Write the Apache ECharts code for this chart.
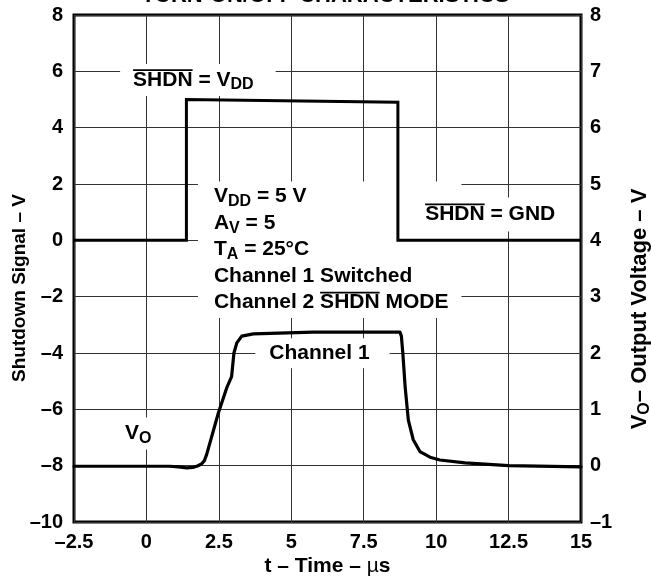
<!DOCTYPE html>
<html><head><meta charset="utf-8">
<script src="https://cdn.jsdelivr.net/npm/echarts@6/dist/echarts.min.js"></script>
<style>html,body{margin:0;padding:0;background:#fff}#c{width:651px;height:584px}</style>
</head><body><div id="c"></div>
<script>
const FONT = '"Liberation Sans", Arial, Helvetica, sans-serif';

// ---- data ----
const titleText = 'TURN-ON/OFF CHARACTERISTICS';
const xMin = -2.5, xMax = 15, xStep = 2.5;
const leftMin = -10, leftMax = 8, leftStep = 2;
const rightMin = -1, rightMax = 8, rightStep = 1;

// Shutdown signal (left axis, V)
const shdnT = [-2.5, 1.38, 1.38, 8.68, 8.68, 15];
const shdnV = [0, 0, 5.0, 4.9, 0, 0];

// VO output voltage (right axis, V)
const voT = [-2.5, 0, 0.8, 1.1, 1.39, 1.6, 1.74, 1.9, 2.0, 2.08, 2.48, 2.77, 2.94, 3.02, 3.12, 3.29, 3.69, 5.75, 8.75, 8.8, 8.85, 8.93, 9.04, 9.21, 9.44, 9.79, 10.13, 11, 12.5, 15];
const voV = [-0.01, -0.01, -0.01, -0.02, -0.04, -0.03, -0.01, 0.03, 0.09, 0.2, 0.93, 1.38, 1.58, 2.0, 2.18, 2.30, 2.34, 2.37, 2.37, 2.3, 2.0, 1.40, 0.81, 0.46, 0.25, 0.15, 0.10, 0.05, 0.0, -0.02];

// ---- annotations (text, anchored in data coords of left axis) ----
const notes = [
  {t: -0.46, v: 5.69, lh: 26, pad: [3, 22, 3, 13], lines: [[['b', 'SHDN', 1], ['b', ' = V'], ['s', 'DD']]]},
  {t: 2.33, v: -0.33, lh: 26.5, pad: [2, 13, 2, 16], lines: [
    [['b', 'V'], ['s', 'DD'], ['b', ' = 5 V']],
    [['b', 'A'], ['s', 'V'], ['b', ' = 5']],
    [['b', 'T'], ['s', 'A'], ['b', ' = 25°C']],
    [['b', 'Channel 1 Switched']],
    [['b', 'Channel 2 '], ['b', 'SHDN', 1], ['b', ' MODE']]]},
  {t: 9.62, v: 0.92, lh: 26, pad: [4, 7, 4, 7], lines: [[['b', 'SHDN', 1], ['b', ' = GND']]]},
  {t: 4.24, v: -4.01, lh: 26, pad: [2, 20, 2, 14], lines: [[['b', 'Channel 1']]]},
  {t: -0.74, v: -6.86, lh: 26, pad: [3, 6, 3, 5], lines: [[['b', 'V'], ['s', 'O']]]}
];

const fmt = v => (v < 0 ? '\u2013' + String(-v) : String(v));
const tickFont = {fontFamily: FONT, fontWeight: 'bold', fontSize: 20, color: '#000'};
const gridLine = {show: true, lineStyle: {color: '#333', width: 1}};

const option = {
  animation: false,
  backgroundColor: '#fff',
  title: {text: titleText, left: 'center', top: -15, padding: 0,
    textStyle: {fontFamily: FONT, fontWeight: 'bold', fontSize: 22, color: '#000'}},
  grid: {left: 74, right: 70, top: 15, bottom: 62, show: true, borderColor: '#000', borderWidth: 3,
    backgroundColor: 'transparent', containLabel: false, outerBoundsMode: 'none'},
  xAxis: {
    type: 'value', min: xMin, max: xMax, interval: xStep,
    axisLine: {show: false}, axisTick: {show: false}, splitLine: gridLine,
    axisLabel: Object.assign({margin: 10, formatter: fmt}, tickFont),
    name: '{b|t \u2013 Time \u2013 }{m|\u00b5}{b|s}', nameLocation: 'middle', nameGap: 34, nameMoveOverlap: false,
    nameTextStyle: {rich: {
      b: {fontFamily: FONT, fontWeight: 'bold', fontSize: 21, color: '#000'},
      m: {fontFamily: FONT, fontWeight: 'normal', fontSize: 21, color: '#000'}}}
  },
  yAxis: [{
    type: 'value', position: 'left', min: leftMin, max: leftMax, interval: leftStep,
    axisLine: {show: false}, axisTick: {show: false}, splitLine: gridLine,
    axisLabel: Object.assign({margin: 11, formatter: fmt}, tickFont),
    name: 'Shutdown Signal \u2013 V', nameLocation: 'middle', nameGap: 45, nameMoveOverlap: false,
    nameTextStyle: {fontFamily: FONT, fontWeight: 'bold', fontSize: 19, color: '#000', padding: [0, 39, 0, 0]}
  }, {
    type: 'value', position: 'right', min: rightMin, max: rightMax, interval: rightStep,
    axisLine: {show: false}, axisTick: {show: false}, splitLine: {show: false},
    axisLabel: Object.assign({margin: 9, formatter: fmt}, tickFont),
    name: '{b|V}{s|O}{b|\u2013 Output Voltage \u2013 V}', nameLocation: 'middle', nameGap: 46, nameMoveOverlap: false,
    nameTextStyle: {padding: [0, 81, 0, 0], rich: {
      b: {fontFamily: FONT, fontWeight: 'bold', fontSize: 22, color: '#000', lineHeight: 26},
      s: {fontFamily: FONT, fontWeight: 'bold', fontSize: 16, color: '#000', lineHeight: 14, verticalAlign: 'bottom'}}}
  }],
  series: [{
    name: 'Shutdown', type: 'line', yAxisIndex: 0, showSymbol: false, symbol: 'none',
    lineStyle: {color: '#000', width: 3, join: 'miter'},
    data: shdnT.map((t, i) => [t, shdnV[i]]), z: 3
  }, {
    name: 'VO', type: 'line', yAxisIndex: 1, showSymbol: false, symbol: 'none',
    smooth: false,
    lineStyle: {color: '#000', width: 3.2, join: 'round', cap: 'round'},
    data: voT.map((t, i) => [t, voV[i]]), z: 3
  }]
};

const chart = echarts.init(document.getElementById('c'), null, {renderer: 'canvas'});
chart.setOption(option);

const ctx = document.createElement('canvas').getContext('2d');
const styles = {b: {fs: 21}, s: {fs: 16}};
function tw(txt, st) { ctx.font = 'bold ' + styles[st].fs + 'px ' + FONT; return ctx.measureText(txt).width; }

const elements = [];
notes.forEach(n => {
  const p = chart.convertToPixel({xAxisIndex: 0, yAxisIndex: 0}, [n.t, n.v]);
  const rich = {
    b: {fontFamily: FONT, fontWeight: 'bold', fontSize: 21, fill: '#000', lineHeight: n.lh},
    s: {fontFamily: FONT, fontWeight: 'bold', fontSize: 16, fill: '#000', lineHeight: 14, verticalAlign: 'bottom'}
  };
  const text = n.lines.map(line => line.map(tk => '{' + tk[0] + '|' + tk[1] + '}').join('')).join('\n');
  elements.push({type: 'text', z: 1, x: p[0] - n.pad[3], y: p[1],
    style: {text: text, rich: rich, align: 'left', verticalAlign: 'middle', backgroundColor: '#fff', padding: n.pad,
      fontFamily: FONT, fontWeight: 'bold', fontSize: 21, fill: '#000', lineHeight: n.lh}});
  const totalH = n.lines.length * n.lh;
  n.lines.forEach((line, i) => {
    const cy = p[1] - totalH / 2 + n.lh * (i + 0.5);
    let x = p[0];
    line.forEach(tk => {
      const w = tw(tk[1], tk[0]);
      if (tk[2]) {
        const y = cy - 0.716 * 21 / 2 - 2.5;
        elements.push({type: 'line', z: 4, shape: {x1: x, y1: y, x2: x + w, y2: y}, style: {stroke: '#000', lineWidth: 1.8}});
      }
      x += w;
    });
  });
});
chart.setOption({graphic: {elements: elements}});
</script></body></html>
